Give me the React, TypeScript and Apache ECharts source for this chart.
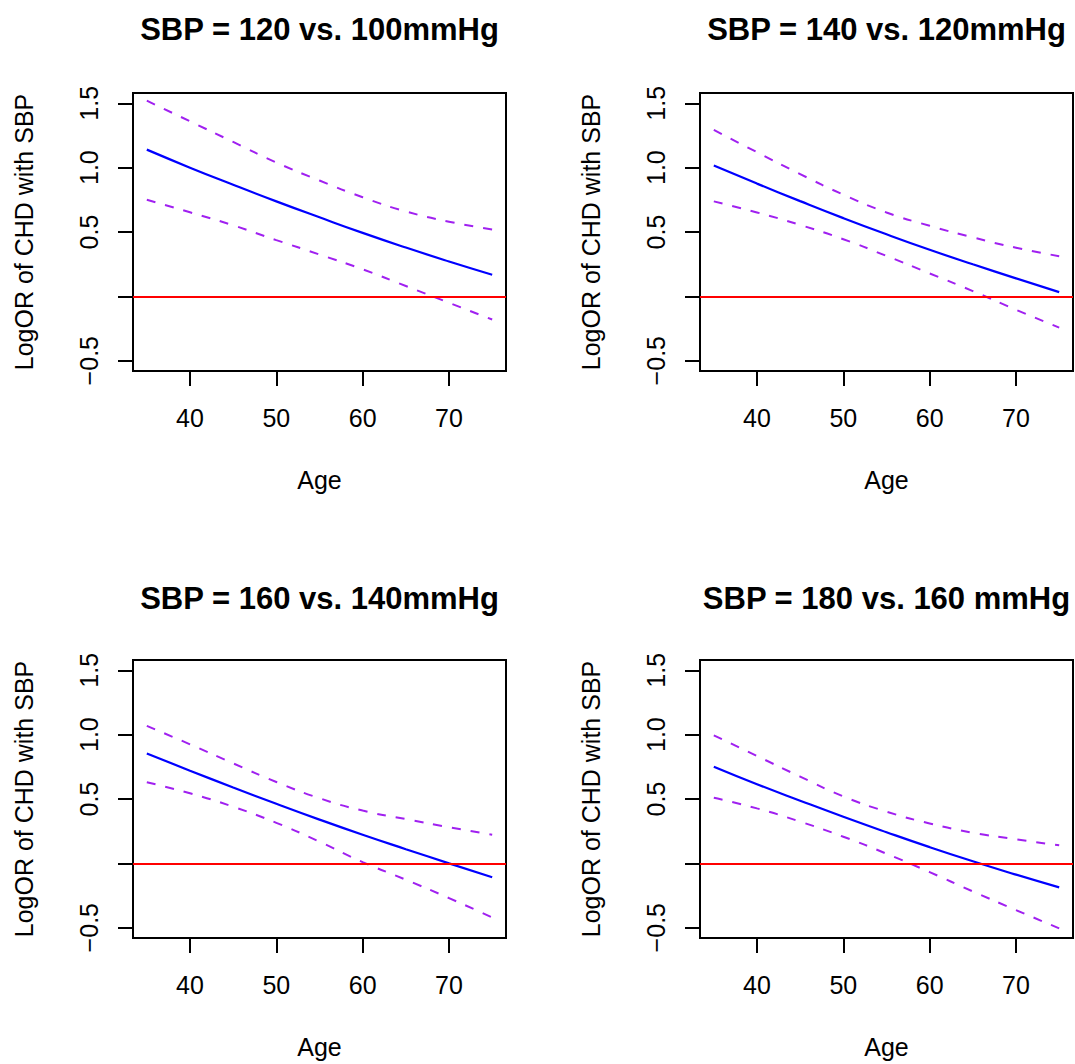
import React, { useEffect, useRef } from "react";
import * as echarts from "echarts";

// ---- data ----
const ages = [35, 40, 45, 50, 55, 60, 65, 70, 75];
const xTickValues = [40, 50, 60, 70];
const yTickValues = [-0.5, 0, 0.5, 1.0, 1.5];
const yLabelValues = [-0.5, 0.5, 1.0, 1.5];

const titles = [
  "SBP = 120 vs. 100mmHg",
  "SBP = 140 vs. 120mmHg",
  "SBP = 160 vs. 140mmHg",
  "SBP = 180 vs. 160 mmHg",
];

const est120 = [1.14, 1.0, 0.867, 0.738, 0.614, 0.493, 0.379, 0.271, 0.168];
const upper120 = [1.52, 1.36, 1.2, 1.04, 0.9, 0.77, 0.66, 0.58, 0.52];
const lower120 = [0.75, 0.653, 0.552, 0.437, 0.325, 0.21, 0.08, -0.05, -0.18];

const est140 = [1.016, 0.876, 0.74, 0.608, 0.482, 0.362, 0.249, 0.14, 0.033];
const upper140 = [1.293, 1.12, 0.95, 0.79, 0.652, 0.548, 0.458, 0.378, 0.312];
const lower140 = [0.738, 0.652, 0.555, 0.444, 0.314, 0.178, 0.041, -0.104, -0.243];

const est160 = [0.854, 0.72, 0.59, 0.463, 0.34, 0.222, 0.11, 0.0, -0.108];
const upper160 = [1.068, 0.925, 0.777, 0.632, 0.506, 0.41, 0.344, 0.281, 0.222];
const lower160 = [0.63, 0.544, 0.44, 0.315, 0.168, 0.01, -0.127, -0.27, -0.42];

const est180 = [0.751, 0.615, 0.487, 0.362, 0.242, 0.126, 0.016, -0.088, -0.187];
const upper180 = [0.995, 0.834, 0.674, 0.52, 0.402, 0.31, 0.238, 0.187, 0.14];
const lower180 = [0.51, 0.427, 0.324, 0.207, 0.075, -0.068, -0.218, -0.363, -0.505];

const panels = [
  { est: est120, upper: upper120, lower: lower120 },
  { est: est140, upper: upper140, lower: lower140 },
  { est: est160, upper: upper160, lower: lower160 },
  { est: est180, upper: upper180, lower: lower180 },
];

// ---- layout ----
const FONT = '"Liberation Sans", Arial, Helvetica, sans-serif';
const W = 1075;
const H = 1064;
const gridPos = [
  { left: 133, top: 93 },
  { left: 700, top: 93 },
  { left: 133, top: 660 },
  { left: 700, top: 660 },
];
const GW = 373;
const GH = 278;
const titleY = [29, 29, 598, 598];

function pairs(xs: number[], ys: number[]) {
  return xs.map((x, i) => [x, ys[i]]);
}

function fmtY(v: number) {
  if (v < 0) return "\u2212" + Math.abs(v).toFixed(1);
  return v.toFixed(1);
}

export default function App() {
  const ref = useRef<HTMLDivElement>(null);

  useEffect(() => {
    document.body.style.margin = "0";
    if (!ref.current) return;
    const chart = echarts.init(ref.current, null, { renderer: "svg" });

    const grid = gridPos.map((g) => ({
      left: g.left,
      top: g.top,
      width: GW,
      height: GH,
      show: true,
      borderColor: "#000",
      borderWidth: 2,
      backgroundColor: "transparent",
      containLabel: false,
    }));

    const xAxis = gridPos.map((_, i) => ({
      type: "value",
      gridIndex: i,
      position: "bottom",
      min: 33.4,
      max: 76.6,
      name: "Age",
      nameLocation: "middle",
      nameGap: 96,
      nameTextStyle: { fontSize: 25, color: "#000", fontFamily: FONT },
      axisLine: { show: false, onZero: false },
      splitLine: { show: false },
      axisTick: {
        show: true,
        inside: false,
        length: 15,
        customValues: xTickValues,
        lineStyle: { color: "#000", width: 2 },
      },
      axisLabel: {
        show: true,
        margin: 34,
        customValues: xTickValues,
        fontSize: 25,
        color: "#000",
        fontFamily: FONT,
      },
    }));

    const yAxis = gridPos.map((_, i) => ({
      type: "value",
      gridIndex: i,
      position: "left",
      min: -0.58,
      max: 1.58,
      name: "LogOR of CHD with SBP",
      nameLocation: "middle",
      nameGap: 97,
      nameRotate: 90,
      nameTextStyle: { fontSize: 25, color: "#000", fontFamily: FONT },
      axisLine: { show: false, onZero: false },
      splitLine: { show: false },
      axisTick: {
        show: true,
        inside: false,
        length: 15,
        customValues: yTickValues,
        lineStyle: { color: "#000", width: 2 },
      },
      axisLabel: {
        show: true,
        rotate: 90,
        margin: 32,
        customValues: yLabelValues,
        formatter: (v: number) => fmtY(v),
        fontSize: 25,
        color: "#000",
        fontFamily: FONT,
      },
    }));

    const series: any[] = [];
    panels.forEach((p, i) => {
      series.push({
        type: "line",
        xAxisIndex: i,
        yAxisIndex: i,
        data: pairs(ages, p.upper),
        symbol: "none",
        smooth: true,
        lineStyle: { color: "#A020F0", width: 2, type: [9, 10] },
        z: 2,
      });
      series.push({
        type: "line",
        xAxisIndex: i,
        yAxisIndex: i,
        data: pairs(ages, p.lower),
        symbol: "none",
        smooth: true,
        lineStyle: { color: "#A020F0", width: 2, type: [9, 10] },
        z: 2,
      });
      series.push({
        type: "line",
        xAxisIndex: i,
        yAxisIndex: i,
        data: pairs(ages, p.est),
        symbol: "none",
        smooth: true,
        lineStyle: { color: "#0000FF", width: 2.2 },
        z: 3,
        markLine: {
          silent: true,
          symbol: ["none", "none"],
          label: { show: false },
          lineStyle: { color: "#FF0000", width: 2, type: "solid" },
          data: [{ yAxis: 0 }],
        },
      });
    });

    const graphic = titles.map((t, i) => ({
      type: "text",
      x: gridPos[i].left + GW / 2,
      y: titleY[i],
      style: {
        text: t,
        font: `bold 31px ${FONT}`,
        fill: "#000",
        textAlign: "center",
        textVerticalAlign: "middle",
      },
    }));

    chart.setOption({
      animation: false,
      backgroundColor: "#fff",
      grid,
      xAxis,
      yAxis,
      series,
      graphic,
    });

    return () => {
      chart.dispose();
    };
  }, []);

  return <div ref={ref} style={{ width: W, height: H }} />;
}
